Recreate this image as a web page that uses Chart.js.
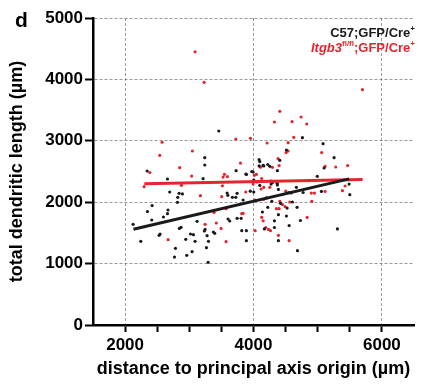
<!DOCTYPE html>
<html>
<head>
<meta charset="utf-8">
<script src="https://cdn.jsdelivr.net/npm/chart.js@4.4.1/dist/chart.umd.min.js"></script>
<style>
    body { margin: 0; background: #fff; }
    canvas { display: block; }
</style>
</head>
<body>
<canvas id="scatterChart" width="421" height="386"></canvas>
<script>
// C57;GFP/Cre+ (black)
const c57Distance = [3459, 3241, 3241, 2343, 2660, 3215, 3729, 3880, 4762, 5084, 5255, 4410, 4098, 4150, 4222, 4254, 4372, 3994, 3890, 5100,
    4994, 2695, 2841, 2893, 2820, 2815, 3589, 3600, 3671, 3724, 3745, 2348, 2421, 2668, 2660, 2415, 2125, 2245, 2530, 2545,
    2846, 2945, 3018, 3064, 3090, 3121, 3246, 3235, 3277, 3298, 3267, 3396, 3375, 3604, 3630, 3745, 3807, 3817, 3889, 3889,
    2784, 2769, 2960, 3043, 3293, 5489, 5500, 5058, 4773, 4866, 4668, 4555, 4586, 4388, 4295, 4274, 4372, 4098, 4004, 4056,
    4004, 3950, 3838, 4201, 4285, 4420, 4222, 4139, 4523, 4606, 4679, 4731, 4513, 4326, 4388, 4555, 4170, 4326, 4388, 4685,
    5307, 2597, 2872, 4087, 4087, 4160, 4513, 4274, 4368, 3973];
const c57Length = [3160, 2725, 2606, 2508, 2378, 2383, 2514, 2459, 3051, 2953, 2725, 2682, 2661, 2601, 2614, 2584, 2514, 2492, 2453, 2557,
    2421, 2166, 2145, 2134, 2080, 1998, 2150, 2112, 2080, 2080, 2145, 1847, 1945, 1873, 1813, 1710, 1640, 1363, 1461, 1482,
    1573, 1396, 1482, 1471, 1363, 1688, 1557, 1531, 1455, 1363, 1260, 1493, 1515, 1726, 1694, 1737, 1737, 1536, 1536, 1373,
    1248, 1107, 1134, 1195, 1021, 2296, 2123, 2176, 2158, 2351, 2243, 2158, 2150, 2208, 2321, 2296, 2280, 2273, 2360, 2329,
    2166, 2180, 2036, 2069, 2014, 1981, 1916, 1840, 1905, 2003, 1916, 1702, 1775, 1697, 1797, 1620, 1564, 1588, 1373, 1211,
    1564, 1759, 1590, 2692, 2590, 2590, 2850, 2345, 2308, 2500];

// Itgb3 fl/fl;GFP/Cre+ (red)
const itgb3Distance = [3090, 3231, 3724, 2576, 2540, 3048, 3797, 2850, 2385, 3037, 3547, 3593, 3527, 5697, 4410, 4326, 4601, 4741, 4829, 4627,
    3952, 4212, 4540, 4508, 4539, 5062, 4383, 4295, 4110, 4014, 5115, 5281, 5467, 2296, 2877, 3516, 3173, 3505, 2670, 3246,
    3421, 3573, 3386, 3573, 3817, 5427, 5385, 5115, 4900, 4948, 4503, 4254, 4118, 4160, 3994, 3880, 4025, 4160, 4410, 3838,
    4357, 4399, 4451, 4492, 4565, 4835, 4128, 4150, 4191, 4233, 4264, 4025, 4388, 4555, 3495, 4908, 4045, 4128, 4399];
const itgb3Length = [4450, 3953, 3029, 2976, 2763, 2834, 2638, 2562, 2484, 2425, 2454, 2416, 2410, 3832, 3480, 3306, 3311, 3388, 3274, 3057,
    3040, 2964, 2970, 2808, 2834, 2808, 2709, 2568, 2570, 2437, 2584, 2573, 2597, 2253, 2275, 2268, 2107, 2090, 1390, 1640,
    1661, 1357, 1832, 1895, 1813, 2264, 2188, 2176, 2148, 2148, 2180, 2243, 2215, 2243, 2296, 2166, 2036, 2047, 2014, 1818,
    1895, 1895, 1962, 1929, 2003, 1753, 1753, 1697, 1588, 1557, 1536, 1536, 1461, 1373, 1573, 2014, 2453, 2386, 2597];

// regression lines: [start, end]
const c57FitX = [2130, 5490];
const c57FitY = [1560, 2380];
const itgb3FitX = [2300, 5700];
const itgb3FitY = [2300, 2370];

const xTicks = [2000, 2500, 3000, 3500, 4000, 4500, 5000, 5500, 6000];
const xTickLabels = ['2000', '', '', '', '4000', '', '', '', '6000'];
const yTicks = [0, 1000, 2000, 3000, 4000, 5000];
const yTickLabels = ['0', '1000', '2000', '3000', '4000', '5000'];

const RED = '#e3262d';
const BLACK = '#1a1a1a';
const FONT = '"Liberation Sans", Arial, sans-serif';

function toPoints(xs, ys) {
    return xs.map((x, i) => ({ x: x, y: ys[i] }));
}

// legend text in the top right corner (mixed italic / superscript)
const legendText = {
    id: 'legendText',
    afterDraw(chart) {
        const ctx = chart.ctx;
        const rows = [
            { y: 37, color: BLACK, parts: [['C57;GFP/Cre', 'bold 13px', 0], ['+', 'bold 8px', -6]] },
            { y: 52, color: RED, parts: [['Itgb3', 'italic bold 13px', 0], ['fl/fl', 'bold 8px', -6], [';GFP/Cre', 'bold 13px', 0], ['+', 'bold 8px', -6]] }
        ];
        ctx.save();
        ctx.textBaseline = 'alphabetic';
        ctx.textAlign = 'left';
        rows.forEach(row => {
            let total = 0;
            row.parts.forEach(p => {
                ctx.font = p[1] + ' ' + FONT;
                total += ctx.measureText(p[0]).width;
            });
            let x = 415 - total;
            ctx.fillStyle = row.color;
            row.parts.forEach(p => {
                ctx.font = p[1] + ' ' + FONT;
                ctx.fillText(p[0], x, row.y + p[2]);
                x += ctx.measureText(p[0]).width;
            });
        });
        // panel letter
        ctx.fillStyle = '#000';
        ctx.font = 'bold 21px ' + FONT;
        ctx.fillText('d', 15, 27);
        ctx.restore();
    }
};

const canvas = document.querySelector('#scatterChart');
new Chart(canvas, {
    type: 'scatter',
    data: {
        datasets: [{
            label: 'C57 fit',
            data: toPoints(c57FitX, c57FitY),
            showLine: true,
            borderColor: BLACK,
            borderWidth: 3,
            pointRadius: 0
        }, {
            label: 'Itgb3 fit',
            data: toPoints(itgb3FitX, itgb3FitY),
            showLine: true,
            borderColor: RED,
            borderWidth: 3,
            pointRadius: 0
        }, {
            label: 'C57;GFP/Cre+',
            data: toPoints(c57Distance, c57Length),
            backgroundColor: BLACK,
            borderWidth: 0,
            pointRadius: 1.6
        }, {
            label: 'Itgb3fl/fl;GFP/Cre+',
            data: toPoints(itgb3Distance, itgb3Length),
            backgroundColor: RED,
            borderWidth: 0,
            pointRadius: 1.6
        }]
    },
    options: {
        responsive: false,
        animation: false,
        layout: {
            padding: { top: 18, right: 7, bottom: 3, left: 3 }
        },
        scales: {
            x: {
                type: 'linear',
                min: 1500,
                max: 6500,
                afterBuildTicks: scale => {
                    scale.ticks = xTicks.map(v => ({ value: v }));
                },
                afterFit: scale => {
                    scale.height = 58;
                },
                ticks: {
                    autoSkip: false,
                    maxRotation: 0,
                    padding: 3,
                    color: '#000',
                    font: { family: FONT, size: 17, weight: 'bold' },
                    callback: (value, index) => xTickLabels[index]
                },
                grid: {
                    color: ctx => (ctx.tick && ctx.tick.value % 2000 === 0) ? 'rgba(110,110,110,0.7)' : 'rgba(0,0,0,0)',
                    lineWidth: 1,
                    tickLength: 7,
                    tickColor: '#000',
                    tickWidth: 2
                },
                border: {
                    display: true,
                    color: '#000',
                    width: 2.5,
                    dash: [3, 2]
                },
                title: {
                    display: true,
                    text: 'distance to principal axis origin (\u00b5m)',
                    color: '#000',
                    font: { family: FONT, size: 18, weight: 'bold' },
                    padding: { top: 0, bottom: 3 }
                }
            },
            y: {
                min: 0,
                max: 5000,
                afterBuildTicks: scale => {
                    scale.ticks = yTicks.map(v => ({ value: v }));
                },
                afterFit: scale => {
                    scale.width = 90;
                },
                ticks: {
                    padding: 2,
                    color: '#000',
                    font: { family: FONT, size: 17, weight: 'bold' },
                    callback: (value, index) => yTickLabels[index]
                },
                grid: {
                    color: ctx => (ctx.tick && ctx.tick.value > 0) ? 'rgba(110,110,110,0.7)' : 'rgba(0,0,0,0)',
                    lineWidth: 1,
                    tickLength: 8,
                    tickColor: '#000',
                    tickWidth: 2
                },
                border: {
                    display: true,
                    color: '#000',
                    width: 2.5,
                    dash: [3, 2]
                },
                title: {
                    display: true,
                    text: 'total dendritic length (\u00b5m)',
                    color: '#000',
                    font: { family: FONT, size: 18, weight: 'bold' },
                    padding: { top: 3, bottom: 0 }
                }
            }
        },
        plugins: {
            legend: { display: false },
            tooltip: { enabled: false }
        }
    },
    plugins: [legendText]
});
</script>
</body>
</html>
